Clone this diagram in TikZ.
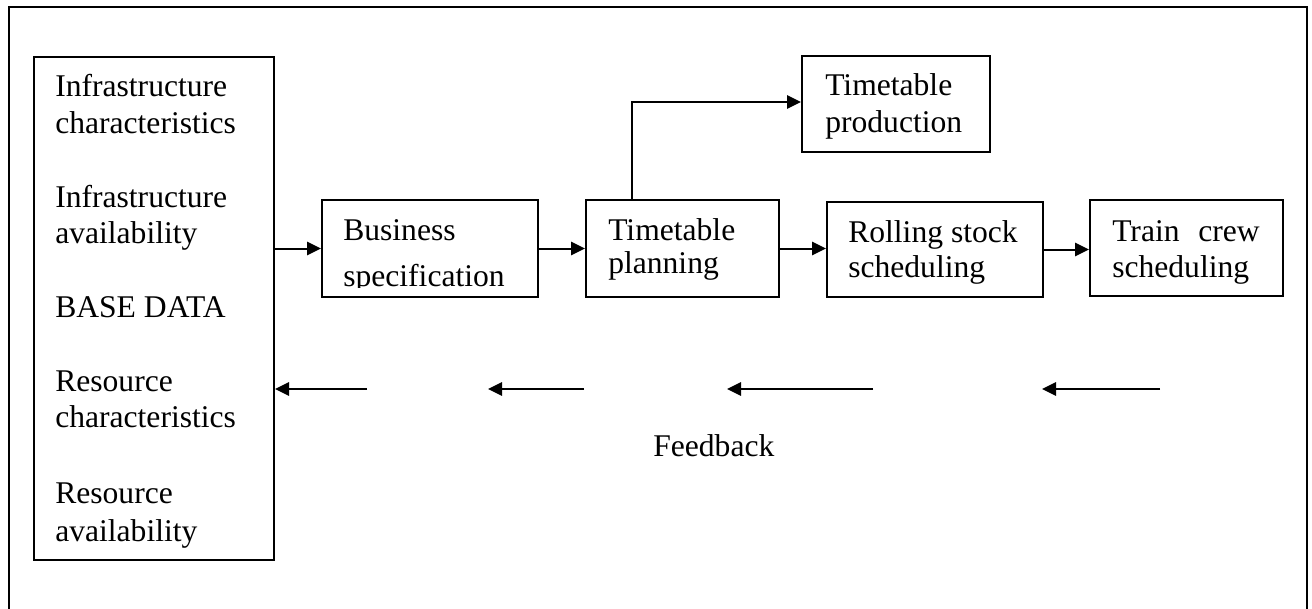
\documentclass[tikz,border=0pt]{standalone}
\usepackage{fontspec}
\setmainfont{Liberation Serif}
\usetikzlibrary{arrows.meta,fit}
\begin{document}
\begin{tikzpicture}[x=0.75pt,y=-0.75pt,
  box/.style={draw,line width=1.5pt,inner sep=0pt},
  txt/.style={anchor=base west,inner sep=0pt,font=\fontsize{23.7pt}{28pt}\selectfont},
  arr/.style={line width=1.5pt,-{Triangle[length=10.5pt,width=10pt]}},
  frame/.style={line width=1.5pt}]
\useasboundingbox (0,0) rectangle (1312,608);
% outer frame (bottom edge lies below the picture)
\draw[frame] (9,612) -- (9,7) -- (1307,7) -- (1307,612);
% boxes
\node[box,fit={(34,57) (274,560)}] (base) {};
\node[box,fit={(322,200) (538,297)}] (bus) {};
\node[box,fit={(586,200) (779,297)}] (plan) {};
\node[box,fit={(802,56) (990,152)}] (prod) {};
\node[box,fit={(827,202) (1043,297)}] (roll) {};
\node[box,fit={(1090,200) (1283,296)}] (crew) {};
% texts in base box
\node[txt] (t1) at (55,96) {Infrastructure};
\node[txt] (t2) at (55,133) {characteristics};
\node[txt] (t3) at (55,207) {Infrastructure};
\node[txt] (t4) at (55,243) {availability};
\node[txt] (t5) at (55,317) {BASE DATA};
\node[txt] (t6) at (55,391) {Resource};
\node[txt] (t7) at (55,427) {characteristics};
\node[txt] (t8) at (55,503) {Resource};
\node[txt] (t9) at (55,541) {availability};
% business
\node[txt] (b1) at (343,240) {Business};
\begin{scope}
\clip (322,200) rectangle (538,287);
\node[txt] (b2) at (343,286) {specification};
\end{scope}
% planning
\node[txt] (p1) at (608,240) {Timetable};
\node[txt] (p2) at (608,273) {planning};
% production
\node[txt] (q1) at (825,95) {Timetable};
\node[txt] (q2) at (825,132) {production};
% rolling stock
\node[txt] (r1) at (848,242) {Rolling stock};
\node[txt] (r2) at (848,277) {scheduling};
% crew
\node[txt] (c1) at (1112,241) {Train};
\node[txt,anchor=base east] (c2) at (1260,241) {crew};
\node[txt] (c3) at (1112,277) {scheduling};
% feedback label
\node[txt] (fb) at (653,456) {Feedback};
% forward arrows
\draw[arr] (base.east |- bus.west) -- (bus.west);
\draw[arr] (bus.east) -- (plan.west);
\draw[arr] (plan.east) -- (roll.west |- plan.east);
\draw[arr] (roll.east) -- (crew.west |- roll.east);
\coordinate (elb) at (632,102);
\draw[arr] (plan.north -| elb) -- (elb) -- (prod.west |- elb);
% feedback arrows
\coordinate (f1s) at (367,389);
\coordinate (f2s) at (584,389);
\coordinate (f2e) at (488,389);
\coordinate (f3s) at (873,389);
\coordinate (f3e) at (727,389);
\coordinate (f4s) at (1160,389);
\coordinate (f4e) at (1042,389);
\draw[arr] (f1s) -- (base.east |- f1s);
\draw[arr] (f2s) -- (f2e);
\draw[arr] (f3s) -- (f3e);
\draw[arr] (f4s) -- (f4e);
\end{tikzpicture}
\end{document}
